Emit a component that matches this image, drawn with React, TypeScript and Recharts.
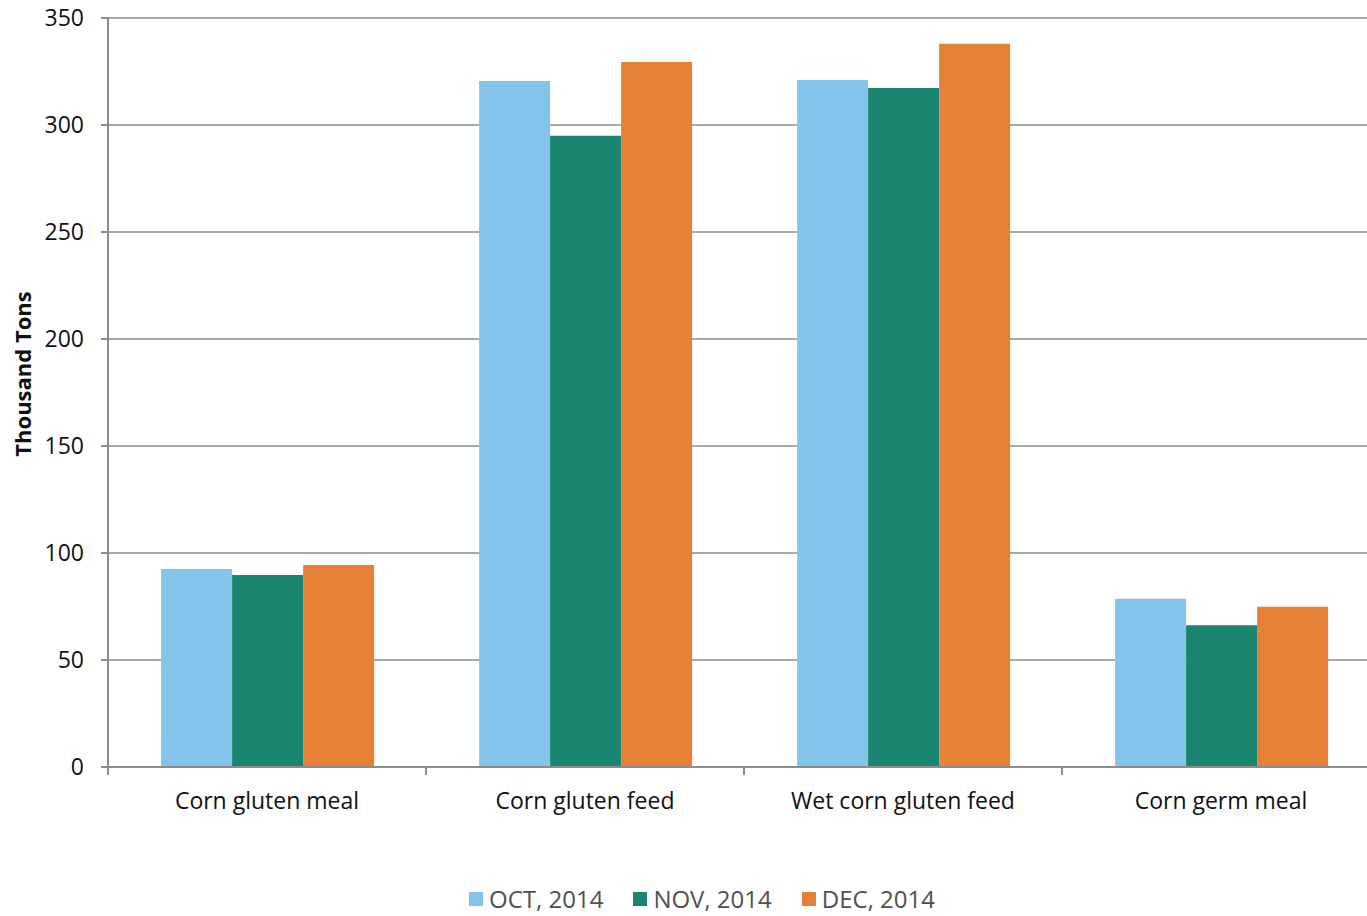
import { BarChart, Bar, XAxis, YAxis, CartesianGrid, Legend } from 'recharts';

// values (thousand tons)
const categories = ['Corn gluten meal', 'Corn gluten feed', 'Wet corn gluten feed', 'Corn germ meal'];
const oct2014 = [92.5, 320.6, 321, 78.6];
const nov2014 = [89.7, 295, 317.3, 66.2];
const dec2014 = [94.4, 329.4, 338, 74.9];
const yTicks = [0, 50, 100, 150, 200, 250, 300, 350];

const seriesNames = ['OCT, 2014', 'NOV, 2014', 'DEC, 2014'];
const seriesColors = ['#85C4EA', '#1A8672', '#E68036'];

const data = categories.map((name, i) => ({
  name,
  oct: oct2014[i],
  nov: nov2014[i],
  dec: dec2014[i],
}));

const FONT = 'Open Sans, sans-serif';
const AXIS = '#8c8c8c';
const W = 1367;
const H = 916;
// the plot area runs a little past the right edge of the picture (cropped)
const CHART_W = 1380;
const Y_AXIS_W = 108;
const BAND = (CHART_W - Y_AXIS_W) / categories.length;

// category label + tick mark on the left edge of each band (Excel style)
const CategoryTick = ({ x, y, payload }: any) => (
  <g>
    <line x1={x - BAND / 2} x2={x - BAND / 2} y1={y - 8} y2={y} stroke={AXIS} strokeWidth={2} />
    <text x={x} y={y + 34} textAnchor="middle" fill="#111" fontSize={23} fontFamily={FONT}>
      {payload.value}
    </text>
  </g>
);

const AxisTitle = () => (
  <text
    x={22}
    y={374}
    transform="rotate(-90 22 374)"
    textAnchor="middle"
    dominantBaseline="central"
    fill="#111"
    fontSize={22}
    fontWeight={700}
    fontFamily={FONT}
  >
    Thousand Tons
  </text>
);

const LegendBox = () => (
  <div style={{ height: 50, display: 'flex', justifyContent: 'center', alignItems: 'flex-start', paddingTop: 20, boxSizing: 'border-box', fontFamily: FONT, fontSize: 24, color: '#505050', marginLeft: 24 }}>
    {seriesNames.map((n, i) => (
      <span key={n} style={{ display: 'flex', alignItems: 'center', marginRight: i < seriesNames.length - 1 ? 30 : 0, lineHeight: '26px' }}>
        <span style={{ width: 14, height: 14, background: seriesColors[i], display: 'inline-block', marginRight: 6 }} />
        {n}
      </span>
    ))}
  </div>
);

export default function App() {
  return (
    <div style={{ position: 'fixed', left: 0, top: 0, width: W, height: H, overflow: 'hidden', background: '#fff', fontFamily: FONT }}>
      <BarChart
        width={CHART_W}
        height={H}
        data={data}
        margin={{ top: 18, right: 0, left: 0, bottom: 0 }}
        barCategoryGap="16.7%"
        barGap={0}
      >
        <CartesianGrid vertical={false} stroke={AXIS} strokeWidth={1.5} />
        <XAxis
          dataKey="name"
          height={99}
          tick={<CategoryTick />}
          tickLine={false}
          axisLine={{ stroke: AXIS, strokeWidth: 2 }}
          interval={0}
        />
        <YAxis
          width={Y_AXIS_W}
          domain={[0, 350]}
          ticks={yTicks}
          tick={{ fill: '#111', fontSize: 23, fontFamily: FONT }}
          tickSize={7}
          tickMargin={17}
          axisLine={{ stroke: AXIS, strokeWidth: 2 }}
          tickLine={{ stroke: AXIS, strokeWidth: 2 }}
          label={<AxisTitle />}
        />
        <Legend verticalAlign="bottom" content={<LegendBox />} />
        <Bar dataKey="oct" name={seriesNames[0]} fill={seriesColors[0]} isAnimationActive={false} />
        <Bar dataKey="nov" name={seriesNames[1]} fill={seriesColors[1]} isAnimationActive={false} />
        <Bar dataKey="dec" name={seriesNames[2]} fill={seriesColors[2]} isAnimationActive={false} />
      </BarChart>
    </div>
  );
}
